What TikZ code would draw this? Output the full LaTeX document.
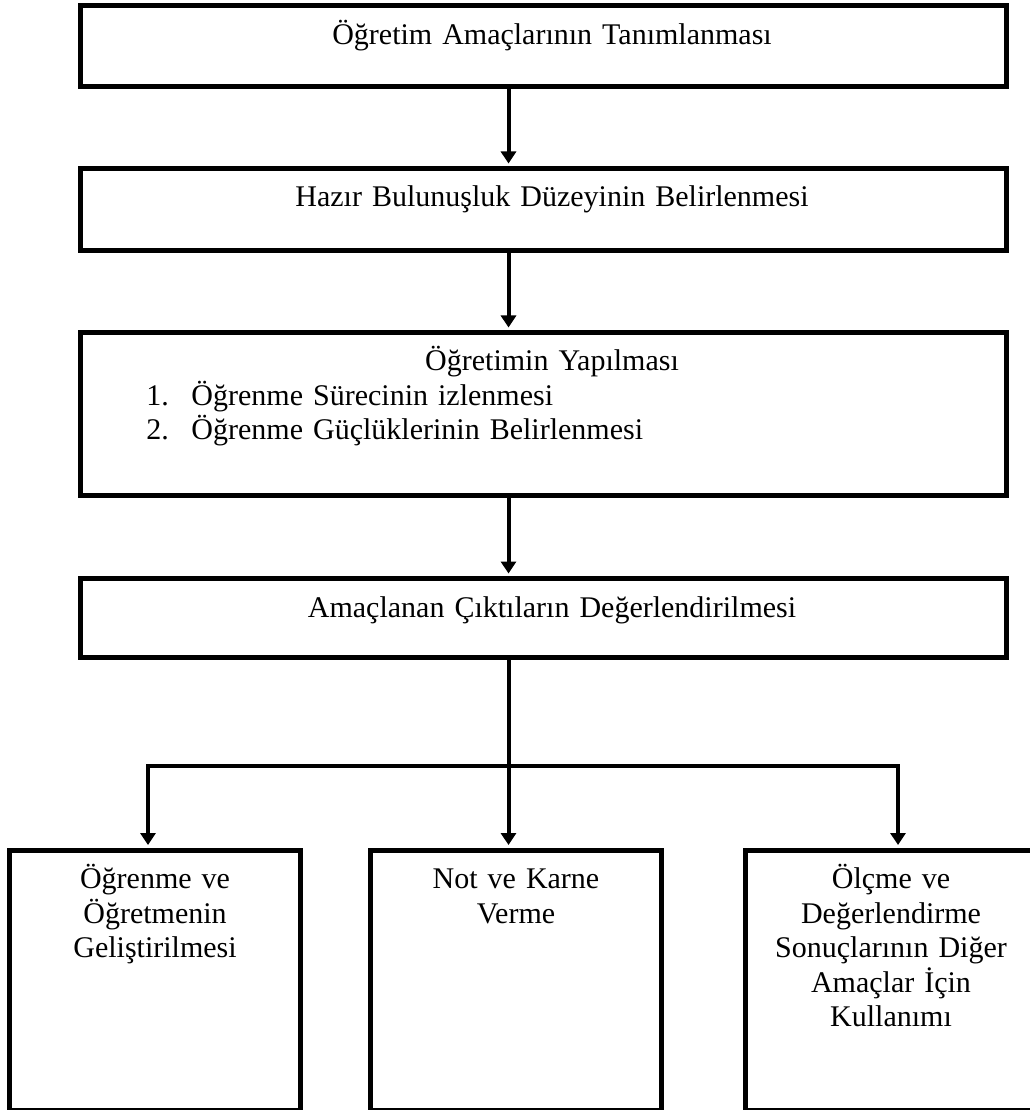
\documentclass[tikz,border=0pt]{standalone}
\usepackage{fontspec}
\setmainfont{Liberation Serif}
\usetikzlibrary{arrows.meta}

\tikzset{
  kutu/.style={draw, line width=2pt, inner sep=0pt, anchor=north, align=center,
    font=\fontsize{12}{13.8}\selectfont, text height=15.4pt},
  genis/.style={kutu, text width=370.4pt,
    execute at begin node={\leftskip=6.8pt plus 1fill\rightskip=0pt plus 1fill\parfillskip=0pt}}, % metin biraz sagda
  dar/.style={kutu, text width=116.2pt, text depth=88.8pt},
  ok/.style={line width=1.6pt, -{Triangle[length=4.8pt,width=6pt]}, shorten >=1pt},
}

\begin{document}
\begin{tikzpicture}[x=0.4pt,y=-0.4pt]
\useasboundingbox (0,0) rectangle (1030,1110);

% ana akis
\node[genis, text depth=17pt]   (amac)    at (543.5,3.5) {Öğretim Amaçlarının Tanımlanması};
\node[genis, text depth=17.4pt] (hazir)   at (543.5,166) {Hazır Bulunuşluk Düzeyinin Belirlenmesi};
\node[genis, text depth=49.8pt] (ogretim) at (543.5,330) {Öğretimin Yapılması\par
  \leftskip=26.4pt \rightskip=0pt plus 1fill
  \makebox[18pt][l]{1.}Öğrenme Sürecinin izlenmesi\par
  \makebox[18pt][l]{2.}Öğrenme Güçlüklerinin Belirlenmesi\par};
\node[genis, text depth=16.2pt] (cikti)   at (543.5,576) {Amaçlanan Çıktıların Değerlendirilmesi};

% alt kutular
\node[dar] (gelistirme) at (155,847.5) {Öğrenme ve\\Öğretmenin\\Geliştirilmesi};
\node[dar] (karne)      at (516,847.5) {Not ve Karne\\Verme};
\node[dar] (kullanim)   at (891,847.5) {Ölçme ve\\Değerlendirme\\Sonuçlarının Diğer\\Amaçlar İçin\\Kullanımı};

\coordinate (eksen) at (508.5,0);
\coordinate (dal) at (508.5,766);

\draw[ok] (amac.south -| eksen) -- (hazir.north -| eksen);
\draw[ok] (hazir.south -| eksen) -- (ogretim.north -| eksen);
\draw[ok] (ogretim.south -| eksen) -- (cikti.north -| eksen);
\draw[ok] (cikti.south -| eksen) -- (karne.north -| eksen);
\draw[ok] (dal) -| ([xshift=-2.8pt]gelistirme.north);
\draw[ok] (dal) -| ([xshift=2.8pt]kullanim.north);
\end{tikzpicture}
\end{document}
